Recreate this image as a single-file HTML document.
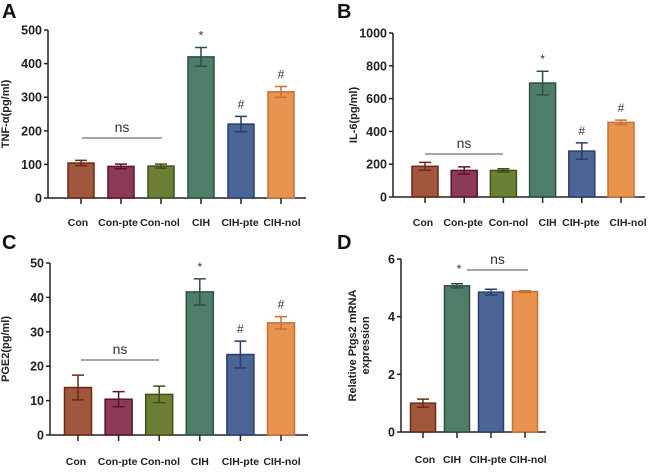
<!DOCTYPE html>
<html><head><meta charset="utf-8"><style>
body{margin:0;background:#fff;}
svg text{font-family:"Liberation Sans",Arial,sans-serif;}
</style></head><body>
<svg id="fig" width="650" height="468" viewBox="0 0 650 468" xmlns="http://www.w3.org/2000/svg"></svg>
<script>
const catsA = ["Con","Con-pte","Con-nol","CIH","CIH-pte","CIH-nol"];
const valsA = [104,94,95,420,220,316];
const errA = [8,7,6,28,23,16];
const marksA = ["","","","*","#","#"];
const ticksA = [0,100,200,300,400,500];

const catsB = ["Con","Con-pte","Con-nol","CIH","CIH-pte","CIH-nol"];
const valsB = [187,162,162,695,280,455];
const errB = [24,22,10,72,50,14];
const marksB = ["","","","*","#","#"];
const ticksB = [0,200,400,600,800,1000];

const catsC = ["Con","Con-pte","Con-nol","CIH","CIH-pte","CIH-nol"];
const valsC = [13.8,10.4,11.8,41.6,23.4,32.6];
const errC = [3.6,2.2,2.4,3.8,3.9,1.8];
const marksC = ["","","","*","#","#"];
const ticksC = [0,10,20,30,40,50];

const catsD = ["Con","CIH","CIH-pte","CIH-nol"];
const valsD = [1.0,5.07,4.85,4.87];
const errD = [0.14,0.07,0.1,0.03];
const ticksD = [0,2,4,6];

const fill = {"Con":"#a0573d","Con-pte":"#8b3a5a","Con-nol":"#6b7f35","CIH":"#4f7e68","CIH-pte":"#4a6596","CIH-nol":"#e8934e"};
const edge = {"Con":"#6b2a14","Con-pte":"#5a1230","Con-nol":"#3f5018","CIH":"#2c5040","CIH-pte":"#2a3f6b","CIH-nol":"#c5703a"};

const svg = document.getElementById('fig');
const NS = "http://www.w3.org/2000/svg";
function mk(tag, attrs, parent){
  const e = document.createElementNS(NS, tag);
  for (const k in attrs) e.setAttribute(k, attrs[k]);
  (parent||svg).appendChild(e);
  return e;
}
function panel(o){
  const g = mk('g', {});
  
  
  const ymax = o.ticks[o.ticks.length-1];
  const y = v => o.y0 - (v / ymax) * (o.y0 - o.ytop);
  const x = i => o.c0 + i * o.step;
  const lt = mk('text', {x:o.lx, y:o.ly, 'font-size':20, 'font-weight':'bold', fill:'#111'}, g);
  lt.textContent = o.letter;
  
  
  const ya = mk('line', {x1:o.ax, x2:o.ax, y1:o.ytop, y2:o.y0, stroke:'#222', 'stroke-width':1.5}, g);
  
  
  o.ticks.forEach(t => {
    mk('line', {x1:o.ax-4, x2:o.ax, y1:y(t), y2:y(t), stroke:'#222', 'stroke-width':1.5}, g);
    const tt = mk('text', {x:o.ax-6, y:y(t)+4.5, 'font-size':12.5, 'font-weight':'bold', 'text-anchor':'end', fill:'#222'}, g);
    tt.textContent = t;
    
    
  });
  const yt = mk('text', {transform:`translate(${o.tx},${(o.ytop+o.y0)/2}) rotate(-90)`, 'font-size':11, 'font-weight':'bold', 'text-anchor':'middle', fill:'#222'}, g);
  o.title.forEach((s, k) => {
    const ts = mk('tspan', {x:0, dy: k===0 ? (o.title.length>1?-2:0) : 13}, yt);
    ts.textContent = s;
  });
  
  
  const xa = mk('line', {x1:o.ax, x2:o.axEnd, y1:o.y0, y2:o.y0, stroke:'#222', 'stroke-width':1.5}, g);
  
  
  o.cats.forEach((c, i) => {
    const cx = x(i), v = o.vals[i], e = o.errs[i];
    const b = mk('rect', {x:cx-o.bw/2, y:y(v), width:o.bw, height:o.y0-y(v), fill:fill[c], stroke:edge[c], 'stroke-width':1.5}, g);
    
    
    const eb = mk('path', {d:`M${cx},${y(v-e)}V${y(v+e)}M${cx-6},${y(v+e)}H${cx+6}M${cx-6},${y(v-e)}H${cx+6}`, stroke:edge[c], 'stroke-width':1.5, fill:'none'}, g);
    
    
    mk('line', {x1:cx, x2:cx, y1:o.y0, y2:o.y0+6, stroke:'#222', 'stroke-width':1.5}, g);
    const lb = mk('text', {x:cx + (o.lofs ? o.lofs[i] : 0), y:o.labY, 'font-size':10.5, 'font-weight':'bold', 'text-anchor':'middle', fill:'#222'}, g);
    lb.textContent = c;
    
    
    if (o.marks && o.marks[i]) {
      const m = mk('text', {x:cx, y:y(v+e)-8, 'font-size':12, 'text-anchor':'middle', fill:'#333'}, g);
      m.textContent = o.marks[i];
      
      
    }
  });
  if (o.ns) {
    const nl = mk('line', {x1:o.ns[0], x2:o.ns[1], y1:o.ns[2], y2:o.ns[2], stroke:'#888', 'stroke-width':1.5}, g);
    
    
    const nt = mk('text', {x:(o.ns[0]+o.ns[1])/2, y:o.ns[2]-6, 'font-size':14, 'text-anchor':'middle', fill:'#333'}, g);
    nt.textContent = 'ns';
    
    
  }
}
panel({letter:'A', lx:2, ly:18, ax:48, axEnd:306, ytop:30, y0:198, c0:81, step:40, bw:26, ticks:ticksA, cats:catsA, vals:valsA, errs:errA, marks:marksA, title:['TNF-α(pg/ml)'], tx:9, labY:226, ns:[82,162,138], lofs:[-3,-3,-1,0,-1,1]});
panel({letter:'B', lx:337, ly:18, ax:393, axEnd:645, ytop:33, y0:197, c0:425, step:39.2, bw:26, ticks:ticksB, cats:catsB, vals:valsB, errs:errB, marks:marksB, title:['IL-6(pg/ml)'], tx:357, labY:226, ns:[425,503,154], lofs:[-2,-1,5,5,-1,7]});
panel({letter:'C', lx:2, ly:249, ax:50, axEnd:308, ytop:263, y0:435, c0:78, step:40.6, bw:27, ticks:ticksC, cats:catsC, vals:valsC, errs:errC, marks:marksC, title:['PGE2(pg/ml)'], tx:9, labY:465, ns:[81,159,360], lofs:[-2,-1,1,0,0,1]});
panel({letter:'D', lx:337, ly:249, ax:401, axEnd:546, ytop:259, y0:432, c0:423, step:34, bw:25, ticks:ticksD, cats:catsD, vals:valsD, errs:errD, marks:null, title:['Relative Ptgs2 mRNA','expression'], tx:358, labY:463, ns:[467,528,270], lofs:[2,-5,-3,3]});
const st = mk('text', {x:459, y:273, 'font-size':12, 'text-anchor':'middle', fill:'#333'});
st.textContent = '*';


</script>
</body></html>
